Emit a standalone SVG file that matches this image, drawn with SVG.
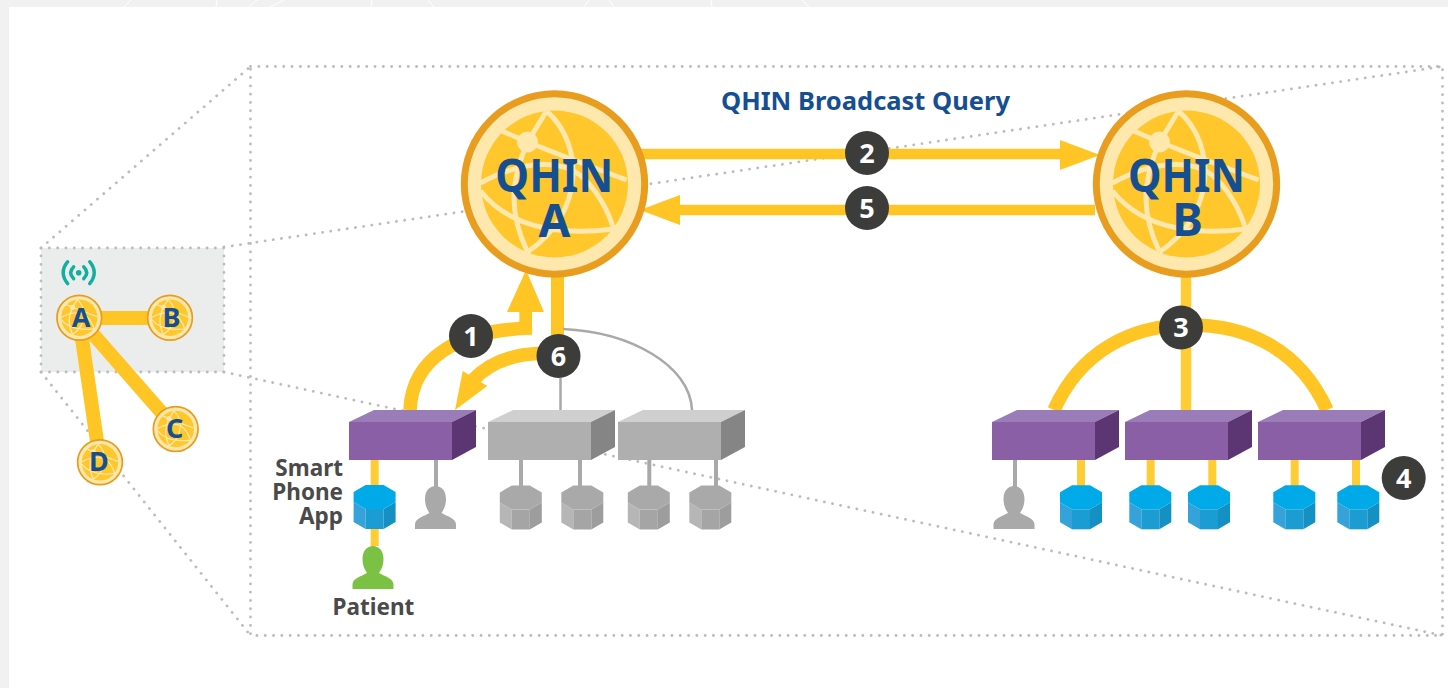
<svg xmlns="http://www.w3.org/2000/svg" xmlns:xlink="http://www.w3.org/1999/xlink" width="1448" height="688" viewBox="0 0 1448 688">
<style>
text{font-family:"Noto Sans","Open Sans","Liberation Sans",sans-serif;font-weight:700}
.blue{fill:#154f92;text-anchor:middle}
.gl{fill:#4a4a4a}
.dot{fill:none;stroke:#bcbcbc;stroke-width:2.8;stroke-linecap:round;stroke-dasharray:0.1 8.200}
.y{fill:none;stroke:#ffc524}
.s{fill:none;stroke:#ffcd33}
.g{fill:none;stroke:#a9a9a9}
.ya{fill:#ffc524}
.bt{fill:#fff;font-size:27px;text-anchor:middle}
.bc{fill:#3c3c3b}
.line{fill:none;stroke:#fee8ae;stroke-width:5}
</style>
<defs>
<g id="globe">
<circle r="90.200" fill="#fee8ae" stroke="#e89d1f" stroke-width="7"/>
<circle r="73.500" fill="#ffc72c"/>
<path class="line" d="M-8-73L-27-42M-55-54L-27-42L19-24L72-4M-8-73C30-40 30 30-27 68M-27-42C-45 0-45 30-27 68M-74-1C-30-25 10-25 30-5C45 10 55 30 59 45M-74 7C-40 50 20 50 59 45"/>
<circle cx="-27" cy="-42" r="10.500" fill="#fee8ae"/>
</g>
<g id="cyl">
<path fill="#36a2da" d="M-21 17L-9 24V44L-21 37Z"/>
<path fill="#1b9cd2" d="M-9 24H9V44H-9Z"/>
<path fill="#1490c3" d="M9 24L21 17V37L9 44Z"/>
<path fill="#00a9e8" d="M-9 0H9L21 7V17L9 24H-9L-21 17V7Z"/>
</g>
<g id="cylg">
<path fill="#b6b6b6" d="M-21 17L-9 24V44L-21 37Z"/>
<path fill="#a5a5a5" d="M-9 24H9V44H-9Z"/>
<path fill="#9d9d9d" d="M9 24L21 17V37L9 44Z"/>
<path fill="#a9a9a9" d="M-9 0H9L21 7V17L9 24H-9L-21 17V7Z"/>
</g>
<path id="person" d="M-20.500 43V38C-20 32-11 30-6 27C-9 23-10.500 18-10.500 13C-10.500 5-6 0 0 0S10.500 5 10.500 13C10.500 18 9 23 6 27C11 30 20 32 20.500 38V43Z"/>
<g id="boxp">
<path fill="#8b5fa6" d="M0 12H103V50H0Z"/>
<path fill="#9a7cb8" d="M0 12L25 0H127L103 12Z"/>
<path fill="#5c3672" d="M103 12L127 0V37L103 50Z"/>
</g>
<g id="boxg">
<path fill="#afafaf" d="M0 12H103V50H0Z"/>
<path fill="#cfcfcf" d="M0 12L25 0H127L103 12Z"/>
<path fill="#858585" d="M103 12L127 0V37L103 50Z"/>
</g>
</defs>
<rect width="1448" height="688" fill="#f1f1f1"/>
<rect x="9" y="7" width="1439" height="681" fill="#fff"/>
<path fill="none" stroke="#fff" stroke-width="1" d="M131 0L124 7M217 0L216 7M257 0L249 7M284 0L270 7M372 0L371 7M428 0L434 7M589 0L584 7M609 0L614 7M711 0L712 7M802 0L809 7"/>
<g id="inset-frame">
<rect x="41" y="248" width="183" height="124" fill="#ebeded"/>
<rect class="dot" x="41" y="248" width="183" height="124"/>
<rect class="dot" x="250.500" y="66.500" width="1192" height="569"/>
<path class="dot" d="M41 248L250.500 66.500M224 247L1442.500 66.500M41 372L250.500 635.500M224 372L1442.500 635.500"/>
</g>
<g id="connectors">
<path class="y" stroke-width="14" d="M79 318H170M79 318L176 429M79 318L100 462"/>
<path class="y" stroke-width="10.500" d="M640 154H1065M1095 210H675"/>
<path class="ya" d="M1100 155L1060 140V170Z"/>
<path class="ya" d="M640 210L680 195V225Z"/>
<path class="y" stroke-width="13.500" d="M410 410C412 360 455 330 532 328"/>
<path class="y" stroke-width="12.700" d="M525.700 334V305"/>
<path class="ya" d="M526 270L507 312H544Z"/>
<path class="y" stroke-width="13.500" d="M540 353.500C515 354 490 362 472 381"/>
<path class="ya" d="M455 410L462.700 371L487.300 386Z"/>
<path class="y" stroke-width="13" d="M557.500 275V342"/>
<path class="g" stroke-width="2.500" d="M563 329C630 332 690 365 692 410M560.500 378V410"/>
<path class="y" stroke-width="13.500" d="M1054 410C1080 352 1130 325 1190 325C1251 325 1301 352 1327 410"/>
<path class="s" stroke-width="10.500" d="M1186 275V410"/>
<path class="s" stroke-width="8" d="M374.700 460V486M374.700 529V546M1081 460V486M1150.700 460V486M1212.300 460V486M1294.700 460V486M1356 460V486"/>
<path class="g" stroke-width="4" d="M436 460V487M521 460V486M580 460V486M649.300 460V486M716 460V486M1015 460V487"/>
</g>
<g id="mini-a"><use xlink:href="#globe" href="#globe" transform="translate(79.300 317.700) scale(.248)"/><text class="blue" x="81" y="327" font-size="27">A</text></g>
<g id="mini-b"><use xlink:href="#globe" href="#globe" transform="translate(170 317.700) scale(.248)"/><text class="blue" x="171.500" y="327" font-size="27">B</text></g>
<g id="mini-c"><use xlink:href="#globe" href="#globe" transform="translate(175.700 429) scale(.248)"/><text class="blue" x="174.700" y="438.300" font-size="27">C</text></g>
<g id="mini-d"><use xlink:href="#globe" href="#globe" transform="translate(100 462.300) scale(.248)"/><text class="blue" x="99" y="471" font-size="27">D</text></g>
<g id="signal" transform="translate(78.700 272.700)" fill="none" stroke="#12afa0" stroke-width="3.400" stroke-linecap="round">
<circle r="2.800" fill="#12afa0" stroke="none"/>
<path d="M-5-6Q-11 0-5 6M5-6Q11 0 5 6M-11-11Q-20 0-11 11M11-11Q20 0 11 11"/>
</g>
<g id="qhin-a"><use xlink:href="#globe" href="#globe" transform="translate(554.500 184)"/><text class="blue" x="554.300" y="191.700" font-size="46" textLength="118" lengthAdjust="spacingAndGlyphs">QHIN</text><text class="blue" x="554.500" y="236.500" font-size="46">A</text></g>
<g id="qhin-b"><use xlink:href="#globe" href="#globe" transform="translate(1186.500 184)"/><text class="blue" x="1186.500" y="191.700" font-size="46" textLength="117" lengthAdjust="spacingAndGlyphs">QHIN</text><text class="blue" x="1187.500" y="235.500" font-size="46">B</text></g>
<text id="title" class="blue" x="865.500" y="110" font-size="25.500" textLength="289" lengthAdjust="spacingAndGlyphs">QHIN Broadcast Query</text>
<g id="box-a1"><use xlink:href="#boxp" href="#boxp" x="349" y="410"/></g>
<g id="box-a2"><use xlink:href="#boxg" href="#boxg" x="488" y="410"/></g>
<g id="box-a3"><use xlink:href="#boxg" href="#boxg" x="618" y="410"/></g>
<g id="box-b1"><use xlink:href="#boxp" href="#boxp" x="992" y="410"/></g>
<g id="box-b2"><use xlink:href="#boxp" href="#boxp" x="1125" y="410"/></g>
<g id="box-b3"><use xlink:href="#boxp" href="#boxp" x="1258" y="410"/></g>
<g id="app"><use xlink:href="#cyl" href="#cyl" x="374.600" y="485"/></g>
<g id="cyl-g1"><use xlink:href="#cylg" href="#cylg" x="520.800" y="485.500"/></g>
<g id="cyl-g2"><use xlink:href="#cylg" href="#cylg" x="582.300" y="485.500"/></g>
<g id="cyl-g3"><use xlink:href="#cylg" href="#cylg" x="648.800" y="485.500"/></g>
<g id="cyl-g4"><use xlink:href="#cylg" href="#cylg" x="710.300" y="485.500"/></g>
<g id="cyl-b1"><use xlink:href="#cyl" href="#cyl" x="1081" y="485.300"/></g>
<g id="cyl-b2"><use xlink:href="#cyl" href="#cyl" x="1150.300" y="485.300"/></g>
<g id="cyl-b3"><use xlink:href="#cyl" href="#cyl" x="1209" y="485.300"/></g>
<g id="cyl-b4"><use xlink:href="#cyl" href="#cyl" x="1294.300" y="485.300"/></g>
<g id="cyl-b5"><use xlink:href="#cyl" href="#cyl" x="1358.300" y="485.300"/></g>
<g id="person-a"><use xlink:href="#person" href="#person" x="435.500" y="486" fill="#a9a9a9"/></g>
<g id="person-b"><use xlink:href="#person" href="#person" x="1014" y="486" fill="#a9a9a9"/></g>
<g id="patient"><use xlink:href="#person" href="#person" x="373" y="546" fill="#7bc143"/><text class="gl" x="373.500" y="614.500" font-size="22.500" text-anchor="middle">Patient</text></g>
<g id="app-label" font-size="22.500" text-anchor="end"><text class="gl" x="343" y="475.500">Smart</text><text class="gl" x="343" y="499.500">Phone</text><text class="gl" x="343" y="524">App</text></g>
<g id="badge-1"><circle class="bc" cx="471" cy="336" r="22"/><text class="bt" x="471" y="345.500">1</text></g>
<g id="badge-2"><circle class="bc" cx="867" cy="153" r="22"/><text class="bt" x="867" y="162.500">2</text></g>
<g id="badge-3"><circle class="bc" cx="1181" cy="327.500" r="22"/><text class="bt" x="1181" y="337">3</text></g>
<g id="badge-4"><circle class="bc" cx="1403.700" cy="478" r="22"/><text class="bt" x="1403.700" y="487.500">4</text></g>
<g id="badge-5"><circle class="bc" cx="867" cy="208" r="22"/><text class="bt" x="867" y="217.500">5</text></g>
<g id="badge-6"><circle class="bc" cx="558.500" cy="356" r="22"/><text class="bt" x="558.500" y="365.500">6</text></g>
</svg>
